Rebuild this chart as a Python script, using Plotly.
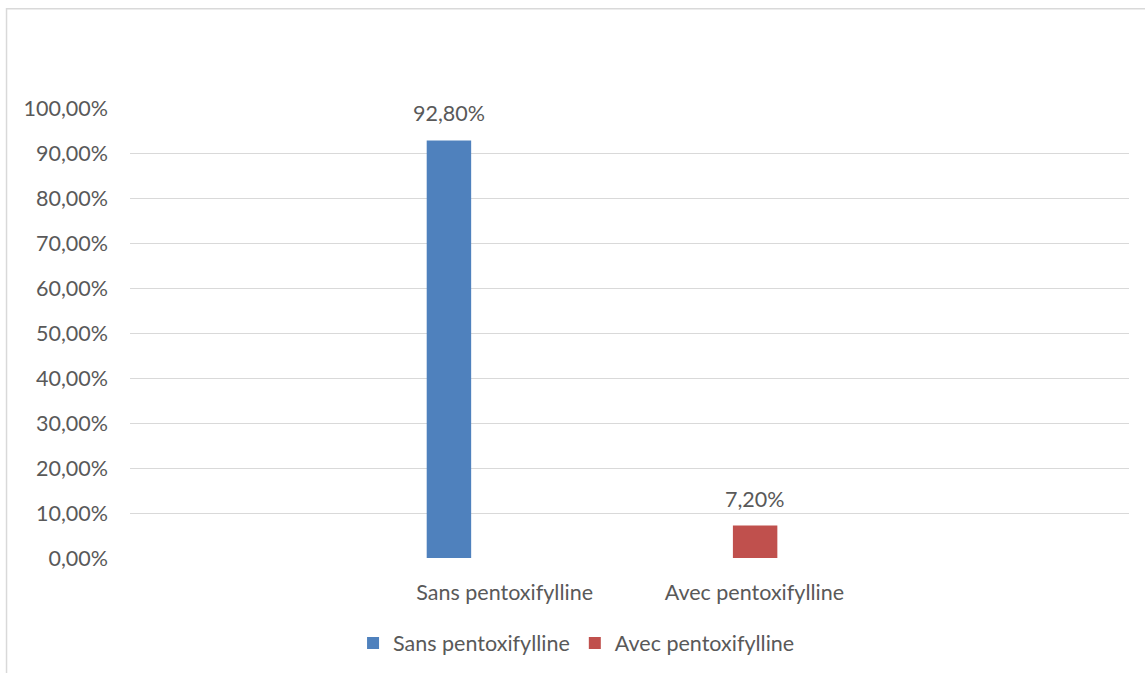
import plotly.graph_objects as go

categories = [" ", "Sans pentoxifylline", "Avec pentoxifylline", "  "]
series_names = ["Sans pentoxifylline", "Avec pentoxifylline"]
series_values = [0.928, 0.072]
series_colors = ["#4F81BD", "#C0504D"]
value_labels = ["92,80%", "7,20%"]
ytick_vals = [0, 0.1, 0.2, 0.3, 0.4, 0.5, 0.6, 0.7, 0.8, 0.9, 1.0]

bar_width = 0.178
offsets = [-0.312, -0.086]

FONT = "Lato"
TXT = "#595959"
FS = 21.5

fig = go.Figure()
for name, val, col, off in zip(series_names, series_values, series_colors, offsets):
    xi = categories.index(name)
    fig.add_trace(go.Bar(
        x=[xi], y=[val], name=name, marker=dict(color=col, line=dict(width=0)),
        width=bar_width, offset=off, hoverinfo="skip",
    ))

for name, val, lab, off in zip(series_names, series_values, value_labels, offsets):
    xi = categories.index(name)
    fig.add_annotation(x=xi + off + bar_width / 2, y=val, text=lab, showarrow=False,
                       yanchor="bottom", yshift=12,
                       font=dict(family=FONT, size=FS, color=TXT))

# chart area border
fig.add_shape(type="rect", xref="paper", yref="paper",
              x0=-0.1236, x1=1.2, y0=-0.5, y1=1.2207,
              line=dict(color="#D9D9D9", width=1.5), layer="below")

fig.update_layout(
    width=1145, height=673,
    margin=dict(l=130, r=16, t=108, b=115, autoexpand=False),
    paper_bgcolor="white", plot_bgcolor="white",
    separators=", ",
    barmode="overlay",
    font=dict(family=FONT, size=FS, color=TXT),
    showlegend=True,
    legend=dict(orientation="h", x=0.447, xanchor="center",
                yref="container", y=0.0446, yanchor="middle",
                font=dict(family=FONT, size=FS, color=TXT), itemwidth=30,
                traceorder="normal"),
    xaxis=dict(range=[-0.5, 3.5], tickmode="array", tickvals=list(range(len(categories))),
               ticktext=categories, showgrid=False, zeroline=False, showline=False,
               ticks="", ticklabelstandoff=19, fixedrange=True, automargin=False),
    yaxis=dict(range=[0, 1.0], tickmode="array", tickvals=ytick_vals, tickformat=".2%",
               showgrid=True, gridcolor="#D9D9D9", gridwidth=1.3, zeroline=False,
               showline=False, ticks="", ticklabelstandoff=21, fixedrange=True,
               automargin=False),
)

fig.write_html("out.html")
